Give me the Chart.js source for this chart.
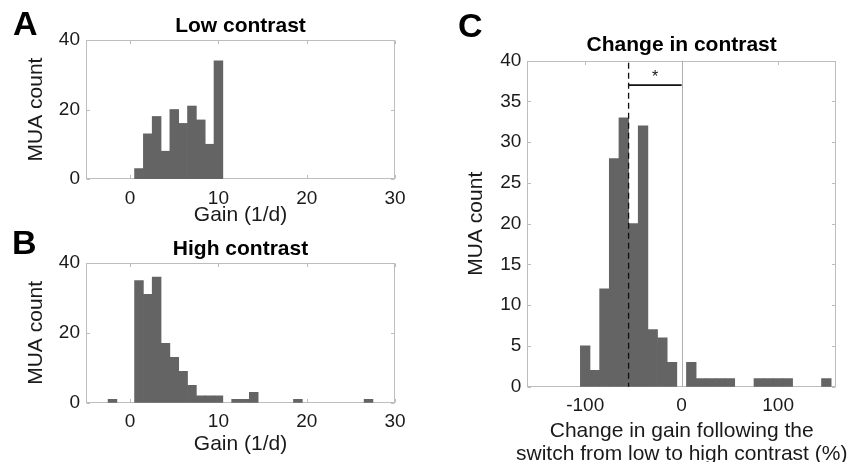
<!DOCTYPE html>
<html>
<head>
<meta charset="utf-8">
<script src="https://cdn.jsdelivr.net/npm/chart.js@4/dist/chart.umd.min.js"></script>
<style>
html, body { margin:0; padding:0; background:#fff; }
#wrap { position:relative; width:854px; height:462px; overflow:hidden; background:#fff; }
#wrap canvas { position:absolute; left:0; top:0; }
.lab { position:absolute; font-family:'Liberation Sans', Arial, Helvetica, sans-serif; font-weight:bold; font-size:34px; line-height:1; color:#000; }
#xtitleC { position:absolute; left:481.7px; width:400px; top:417.8px; text-align:center; white-space:nowrap;
  font-family:'Liberation Sans', Arial, Helvetica, sans-serif; font-size:21px; line-height:23.3px; color:#1a1a1a; }
</style>
</head>
<body>
<div id="wrap">
  <canvas id="cA" width="854" height="462"></canvas>
  <canvas id="cB" width="854" height="462"></canvas>
  <canvas id="cC" width="854" height="462"></canvas>
  <div class="lab" style="left:13px;top:6px;">A</div>
  <div class="lab" style="left:12px;top:225px;">B</div>
  <div class="lab" style="left:458px;top:8px;">C</div>
  <div id="xtitleC"></div>
</div>
<script>
// ---------- data ----------
// Panel A: low contrast gain histogram (bin centres, 1/d) and counts
const gainBinsLow  = [1, 2, 3, 4, 5, 6, 7, 8, 9, 10];
const countsLow    = [3, 13, 18, 8, 20, 16, 21, 17, 10, 34];
// Panel B: high contrast gain histogram
const gainBinsHigh = [-2, 1, 2, 3, 4, 5, 6, 7, 8, 9, 10, 12, 13, 14, 19, 27];
const countsHigh   = [1, 35, 31, 36, 17, 13, 9, 5, 2, 2, 2, 1, 1, 3, 1, 1];
// Panel C: change in gain (%) histogram
const changeBins   = [-100, -90, -80, -70, -60, -50, -40, -30, -20, -10, 10, 20, 30, 40, 50, 80, 90, 100, 110, 150];
const countsChange = [5, 2, 12, 28, 33, 20, 32, 7, 6, 3, 3, 1, 1, 1, 1, 1, 1, 1, 1, 1];
// tick labels
const gainTicks    = [0, 10, 20, 30];
const countTicksAB = [0, 20, 40];
const changeTicks  = [-100, 0, 100];
const countTicksC  = [0, 5, 10, 15, 20, 25, 30, 35, 40];
// titles
const xTitleC = ['Change in gain following the', 'switch from low to high contrast (%)'];
// annotations for panel C
const medianChange = -55;
const referenceChange = 0;
const bracketLevel = 37;
const starLevel = 37.9;
const significanceLabel = '*';

// ---------- styles ----------
const FONT = "'Liberation Sans', Arial, Helvetica, sans-serif";
const BAR = '#646464';
const FRAME = '#bdbdbd';
const TXT = '#1a1a1a';

document.getElementById('xtitleC').innerHTML = xTitleC.join('<br>');

const framePlugin = {
  id: 'frame',
  beforeDatasetsDraw(chart) {
    const { ctx, chartArea: a, scales } = chart;
    const x = scales.x, y = scales.y;
    const L = Math.round(a.left) + 0.5, R = Math.round(a.right) - 0.5;
    const T = Math.round(a.top) + 0.5, B = Math.round(a.bottom) - 0.5;
    ctx.save();
    ctx.strokeStyle = FRAME;
    ctx.lineWidth = 1;
    ctx.strokeRect(L, T, R - L, B - T);
    const tl = 3.5;
    ctx.beginPath();
    x.ticks.forEach(t => {
      const px = Math.round(x.getPixelForValue(t.value)) + 0.5;
      ctx.moveTo(px, B); ctx.lineTo(px, B - tl);
      ctx.moveTo(px, T); ctx.lineTo(px, T + tl);
    });
    y.ticks.forEach(t => {
      const py = Math.round(y.getPixelForValue(t.value)) + 0.5;
      ctx.moveTo(L, py); ctx.lineTo(L + tl, py);
      ctx.moveTo(R, py); ctx.lineTo(R - tl, py);
    });
    ctx.stroke();
    ctx.restore();
  }
};

const changePlugin = {
  id: 'changeMarks',
  beforeDatasetsDraw(chart) {
    const { ctx, chartArea: a, scales: { x } } = chart;
    const px0 = Math.round(x.getPixelForValue(referenceChange)) + 0.5;
    ctx.save();
    ctx.strokeStyle = '#b0b0b0';
    ctx.lineWidth = 1;
    ctx.beginPath();
    ctx.moveTo(px0, a.top); ctx.lineTo(px0, a.bottom);
    ctx.stroke();
    ctx.restore();
  },
  afterDatasetsDraw(chart) {
    const { ctx, chartArea: a, scales: { x, y } } = chart;
    const pm = x.getPixelForValue(medianChange);
    const p0 = x.getPixelForValue(referenceChange);
    ctx.save();
    ctx.strokeStyle = '#111';
    ctx.lineWidth = 1.3;
    ctx.setLineDash([6, 4]);
    ctx.beginPath();
    ctx.moveTo(pm, a.top + 2); ctx.lineTo(pm, a.bottom);
    ctx.stroke();
    ctx.setLineDash([]);
    ctx.lineWidth = 1.6;
    const by = y.getPixelForValue(bracketLevel);
    ctx.beginPath();
    ctx.moveTo(pm, by); ctx.lineTo(p0, by);
    ctx.stroke();
    ctx.fillStyle = '#111';
    ctx.font = '16px ' + FONT;
    ctx.textAlign = 'center';
    ctx.textBaseline = 'middle';
    ctx.fillText(significanceLabel, (pm + p0) / 2, y.getPixelForValue(starLevel));
    ctx.restore();
  }
};

function makeHist(id, centers, counts, cfg, extraPlugins) {
  return new Chart(document.getElementById(id), {
    type: 'bar',
    data: {
      datasets: [{
        data: centers.map((c, i) => ({ x: c, y: counts[i] })),
        backgroundColor: BAR,
        borderWidth: 0,
        barPercentage: 1,
        categoryPercentage: 1
      }]
    },
    options: {
      responsive: false,
      animation: false,
      devicePixelRatio: 1,
      events: [],
      layout: { padding: cfg.pad },
      plugins: {
        legend: { display: false },
        tooltip: { enabled: false },
        title: {
          display: true, text: cfg.title, fullSize: false,
          font: { family: FONT, size: 21, weight: 'bold', lineHeight: 1.2 },
          color: '#000', padding: cfg.titlePad
        }
      },
      scales: {
        x: {
          type: 'linear', min: cfg.xMin, max: cfg.xMax, offset: false,
          afterBuildTicks: s => { s.ticks = cfg.xTicks.map(v => ({ value: v })); },
          afterFit: s => { s.height = cfg.xH; },
          grid: { display: false, drawTicks: false },
          border: { display: false },
          ticks: { font: { family: FONT, size: 19 }, color: TXT, padding: 8, maxRotation: 0, autoSkip: false },
          title: {
            display: !!cfg.xTitle, text: cfg.xTitle || '',
            font: { family: FONT, size: 21, lineHeight: 1.2 },
            color: TXT, padding: { top: 0, bottom: cfg.xTitlePad || 0 }
          }
        },
        y: {
          type: 'linear', min: 0, max: 40,
          afterBuildTicks: s => { s.ticks = cfg.yTicks.map(v => ({ value: v })); },
          afterFit: s => { s.width = cfg.yW; },
          grid: { display: false, drawTicks: false },
          border: { display: false },
          ticks: { font: { family: FONT, size: 19 }, color: TXT, padding: 6, autoSkip: false },
          title: {
            display: true, text: 'MUA count',
            font: { family: FONT, size: 21, lineHeight: 1.2 },
            color: TXT, padding: { top: 23.4, bottom: 0 }
          }
        }
      }
    },
    plugins: [framePlugin].concat(extraPlugins || [])
  });
}

makeHist('cA', gainBinsLow, countsLow, {
  title: 'Low contrast', titlePad: { top: 13.4, bottom: 1.4 },
  pad: { left: 0, right: 459, top: 0, bottom: 233 },
  xMin: -5, xMax: 30, xTicks: gainTicks, yTicks: countTicksAB,
  xH: 50, yW: 86, xTitle: 'Gain (1/d)', xTitlePad: 1.4
});

makeHist('cB', gainBinsHigh, countsHigh, {
  title: 'High contrast', titlePad: { top: 0, bottom: 1.4 },
  pad: { left: 0, right: 459, top: 236.4, bottom: 4.3 },
  xMin: -5, xMax: 30, xTicks: gainTicks, yTicks: countTicksAB,
  xH: 55, yW: 86, xTitle: 'Gain (1/d)', xTitlePad: 1.1
});

makeHist('cC', changeBins, countsChange, {
  title: 'Change in contrast', titlePad: { top: 0, bottom: 2.6 },
  pad: { left: 440, right: 18, top: 32.9, bottom: 0 },
  xMin: -160, xMax: 160, xTicks: changeTicks, yTicks: countTicksC,
  xH: 75.3, yW: 87.3, xTitle: null
}, [changePlugin]);
</script>
</body>
</html>
